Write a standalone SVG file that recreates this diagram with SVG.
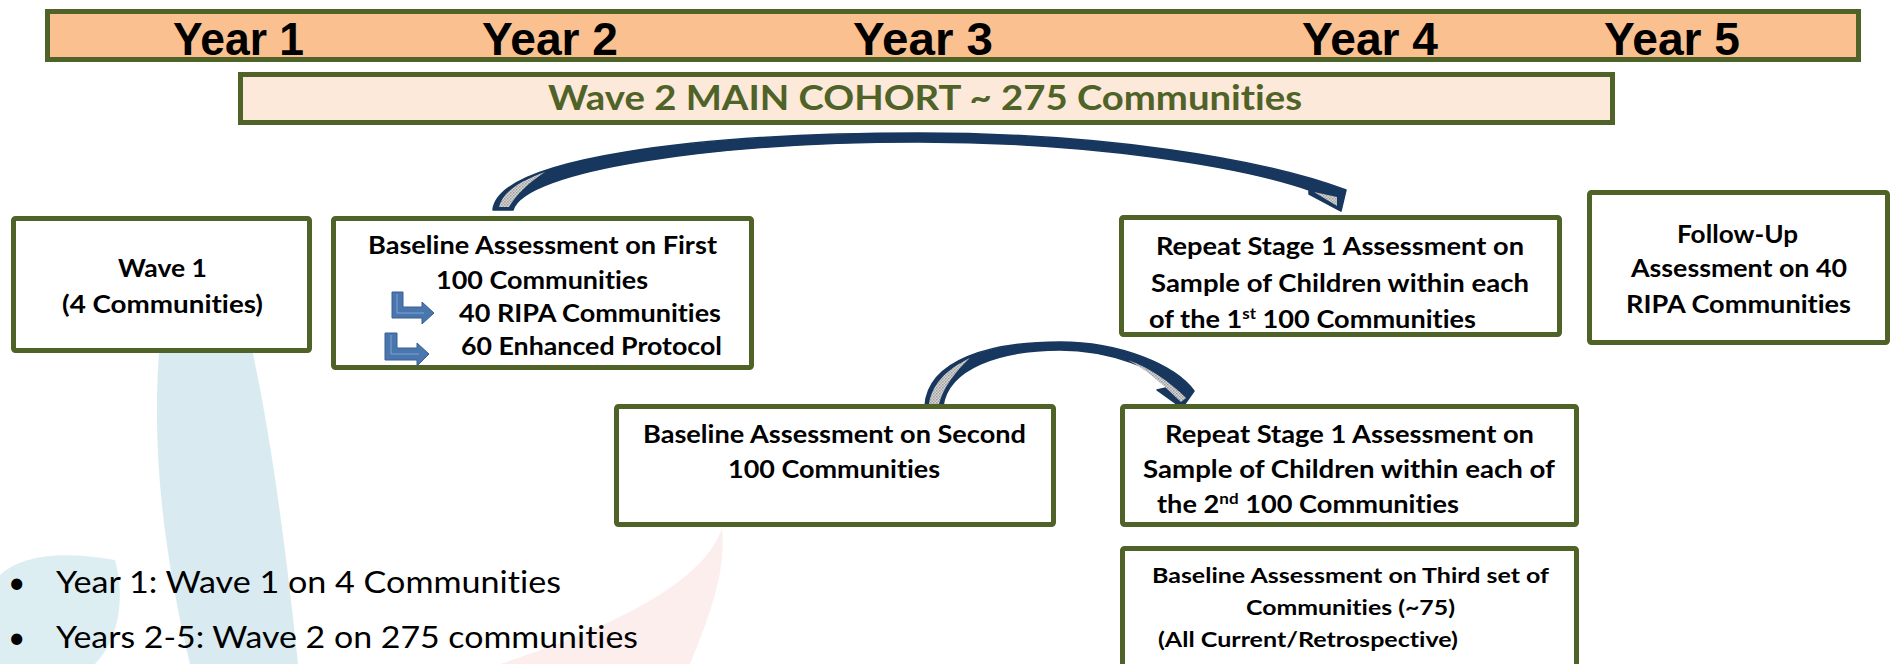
<svg xmlns="http://www.w3.org/2000/svg" width="1896" height="664" viewBox="0 0 1896 664">
<style>
text{font-variant-ligatures:none;font-feature-settings:"liga" 0,"clig" 0}
.box{fill:#fff;stroke:#4F6228;stroke-width:5}
.t{font-family:Lato,"Open Sans","Liberation Sans",sans-serif;font-weight:bold;font-size:24px;fill:#000}
.ts{font-size:20.5px}
.yr{font-family:"Liberation Sans",Arial,sans-serif;font-weight:bold;font-size:46px;fill:#000}
.bul{font-family:Lato,"Open Sans","Liberation Sans",sans-serif;font-size:30px;fill:#000}
.band{fill:#17375E;stroke:#17375E;stroke-width:1.5;stroke-linejoin:round}
.hl{fill:url(#hatch)}
.bent{fill:#4A76AE;stroke:#3A5F8F;stroke-width:1}
</style>
<defs>
<pattern id="hatch" width="3" height="3" patternUnits="userSpaceOnUse">
<rect width="3" height="3" fill="#D8D8D8"/>
<rect width="1.5" height="1.5" fill="#9A9A9A"/>
<rect x="1.5" y="1.5" width="1.5" height="1.5" fill="#A8A8A8"/>
</pattern>
</defs>
<rect width="1896" height="664" fill="#fff"/>
<g id="background">
<path d="M160,340 C150,450 165,560 190,664 L298,664 C285,540 270,430 250,340 Z" fill="#D9EBF0"/>
<path d="M0,575 C20,556 60,550 115,560 C126,600 118,640 95,664 L0,664 Z" fill="#DDEEF2"/>
<path d="M722,528 C705,580 620,625 500,664 L690,664 C712,610 726,570 722,528 Z" fill="#FDEEEE"/>
</g>
<g id="timeline">
<rect x="47.5" y="11.5" width="1811" height="48" fill="#FAC090" stroke="#4F6228" stroke-width="5"/>
<text class="yr" x="173" y="55" textLength="131" lengthAdjust="spacingAndGlyphs">Year 1</text>
<text class="yr" x="482" y="55" textLength="136" lengthAdjust="spacingAndGlyphs">Year 2</text>
<text class="yr" x="853" y="55" textLength="140" lengthAdjust="spacingAndGlyphs">Year 3</text>
<text class="yr" x="1302" y="55" textLength="136" lengthAdjust="spacingAndGlyphs">Year 4</text>
<text class="yr" x="1604" y="55" textLength="136" lengthAdjust="spacingAndGlyphs">Year 5</text>
</g>
<g id="cohort">
<rect x="240.5" y="74.5" width="1372" height="48" fill="#FDE9D9" stroke="#4F6228" stroke-width="5"/>
<text class="t" x="548" y="110" style="font-size:35px;fill:#4F6228" textLength="754" lengthAdjust="spacingAndGlyphs">Wave 2 MAIN COHORT ~ 275 Communities</text>
</g>
<g id="connectors">
<path class="band" d="M493,210 C498,158 700,133 919,133 C1100,133 1260,158 1346,190 L1341,211 L1309,194 L1309,190 C1240,166 1090,142 919,142 C715,142 524,170 513,210 Z"/>
<path class="hl" d="M499,207 C503,192 518,182 545,172 C528,183 516,195 509,207 Z"/>
<path class="hl" d="M1314,192 L1337,197 L1337,206 Z"/>
<path class="band" d="M925,406 C928,360 990,342 1060,342 C1120,342 1175,365 1194,391 L1182,408 L1157,390 L1170,387 C1160,370 1110,350 1060,350 C1000,350 948,368 943,406 Z"/>
<path class="hl" d="M929,404 C932,385 945,370 970,358 C955,372 943,388 939,404 Z"/>
<path class="hl" d="M1128,360 C1150,368 1170,382 1186,398 L1181,402 C1168,390 1152,373 1128,360 Z"/>
</g>
<g id="wave1">
<rect class="box" x="13.5" y="218.5" width="296" height="132" rx="2"/>
<text class="t" x="118" y="277" textLength="89" lengthAdjust="spacingAndGlyphs">Wave 1</text>
<text class="t" x="62" y="313" textLength="201" lengthAdjust="spacingAndGlyphs">(4 Communities)</text>
</g>
<g id="baseline-first">
<rect class="box" x="333.5" y="218.5" width="418" height="149" rx="2"/>
<text class="t" x="368" y="254" textLength="349" lengthAdjust="spacingAndGlyphs">Baseline Assessment on First</text>
<text class="t" x="436" y="289" textLength="212" lengthAdjust="spacingAndGlyphs">100 Communities</text>
<polygon class="bent" points="392,292 403,292 403,307 422,307 422,302 434,313 422,324 422,318 392,318"/>
<polyline points="397,294 397,313 424,313" fill="none" stroke="#7EA3D3" stroke-width="1"/>
<text class="t" x="459" y="322" textLength="262" lengthAdjust="spacingAndGlyphs">40 RIPA Communities</text>
<polygon class="bent" points="385,333 397,333 397,348 417,348 417,343 429,354 417,366 417,360 385,360"/>
<polyline points="391,335 391,354 419,354" fill="none" stroke="#7EA3D3" stroke-width="1"/>
<text class="t" x="461" y="355" textLength="261" lengthAdjust="spacingAndGlyphs">60 Enhanced Protocol</text>
</g>
<g id="repeat-first">
<rect class="box" x="1121.5" y="217.5" width="438" height="117" rx="2"/>
<text class="t" x="1156" y="255" textLength="368" lengthAdjust="spacingAndGlyphs">Repeat Stage 1 Assessment on</text>
<text class="t" x="1151" y="292" textLength="378" lengthAdjust="spacingAndGlyphs">Sample of Children within each</text>
<text class="t" x="1149" y="328" textLength="327" lengthAdjust="spacingAndGlyphs">of the 1<tspan dy="-9" style="font-size:15px">st</tspan><tspan dy="9"> 100 Communities</tspan></text>
</g>
<g id="follow-up">
<rect class="box" x="1589.5" y="192.5" width="298" height="150" rx="2"/>
<text class="t" x="1677" y="243" textLength="121" lengthAdjust="spacingAndGlyphs">Follow-Up</text>
<text class="t" x="1631" y="277" textLength="216" lengthAdjust="spacingAndGlyphs">Assessment on 40</text>
<text class="t" x="1626" y="313" textLength="225" lengthAdjust="spacingAndGlyphs">RIPA Communities</text>
</g>
<g id="baseline-second">
<rect class="box" x="616.5" y="406.5" width="437" height="118" rx="2"/>
<text class="t" x="643" y="443" textLength="383" lengthAdjust="spacingAndGlyphs">Baseline Assessment on Second</text>
<text class="t" x="728" y="478" textLength="212" lengthAdjust="spacingAndGlyphs">100 Communities</text>
</g>
<g id="repeat-second">
<rect class="box" x="1122.5" y="406.5" width="454" height="118" rx="2"/>
<text class="t" x="1165" y="443" textLength="369" lengthAdjust="spacingAndGlyphs">Repeat Stage 1 Assessment on</text>
<text class="t" x="1143" y="478" textLength="412" lengthAdjust="spacingAndGlyphs">Sample of Children within each of</text>
<text class="t" x="1157" y="513" textLength="302" lengthAdjust="spacingAndGlyphs">the 2<tspan dy="-9" style="font-size:15px">nd</tspan><tspan dy="9"> 100 Communities</tspan></text>
</g>
<g id="baseline-third">
<rect class="box" x="1122.5" y="548.5" width="454" height="130" rx="2"/>
<text class="t ts" x="1152" y="583" textLength="397" lengthAdjust="spacingAndGlyphs">Baseline Assessment on Third set of</text>
<text class="t ts" x="1246" y="615" textLength="209" lengthAdjust="spacingAndGlyphs">Communities (~75)</text>
<text class="t ts" x="1158" y="647" textLength="300" lengthAdjust="spacingAndGlyphs">(All Current/Retrospective)</text>
</g>
<g id="bullets">
<text class="bul" x="8" y="593">•</text>
<text class="bul" x="56" y="593" textLength="505" lengthAdjust="spacingAndGlyphs">Year 1: Wave 1 on 4 Communities</text>
<text class="bul" x="8" y="648">•</text>
<text class="bul" x="56" y="648" textLength="582" lengthAdjust="spacingAndGlyphs">Years 2-5: Wave 2 on 275 communities</text>
</g>
</svg>
